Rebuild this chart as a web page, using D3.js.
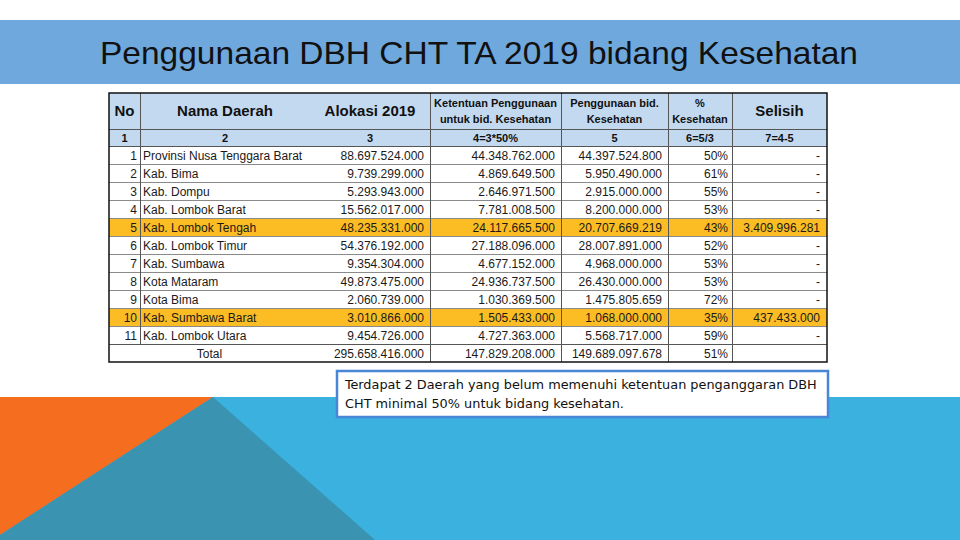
<!doctype html>
<html>
  <head>
    <meta charset="utf-8">
    <script src="https://cdnjs.cloudflare.com/ajax/libs/d3/7.8.5/d3.min.js"></script>
    <style>
      body { margin: 0; background: #fff; }
      svg { display: block; font-family: "Liberation Sans", Arial, sans-serif; }
      text.cell { font-size: 12px; fill: #1a1a1a; }
      text.head { font-weight: bold; fill: #111; }
      line.grid { stroke: #555; stroke-width: 1; }
      line.rowline { stroke: #8a8a8a; stroke-width: 1; }
    </style>
  </head>
  <body>
    <div id="slide"></div>
    <script>
      // data
      var titleText = "Penggunaan DBH CHT TA 2019 bidang Kesehatan";
      var regions = ["Provinsi Nusa Tenggara Barat", "Kab. Bima", "Kab. Dompu", "Kab. Lombok Barat",
        "Kab. Lombok Tengah", "Kab. Lombok Timur", "Kab. Sumbawa", "Kota Mataram", "Kota Bima",
        "Kab. Sumbawa Barat", "Kab. Lombok Utara"];
      var alokasi = [88697524000, 9739299000, 5293943000, 15562017000, 48235331000, 54376192000,
        9354304000, 49873475000, 2060739000, 3010866000, 9454726000];
      var ketentuan = [44348762000, 4869649500, 2646971500, 7781008500, 24117665500, 27188096000,
        4677152000, 24936737500, 1030369500, 1505433000, 4727363000];
      var penggunaan = [44397524800, 5950490000, 2915000000, 8200000000, 20707669219, 28007891000,
        4968000000, 26430000000, 1475805659, 1068000000, 5568717000];
      var persen = [50, 61, 55, 53, 43, 52, 53, 53, 72, 35, 59];
      var selisih = [null, null, null, null, 3409996281, null, null, null, null, 437433000, null];
      var highlighted = [4, 9];
      var totals = { alokasi: 295658416000, ketentuan: 147829208000, penggunaan: 149689097678, persen: 51 };
      var headers = [["No"], ["Nama Daerah"], ["Alokasi 2019"], ["Ketentuan Penggunaan", "untuk bid. Kesehatan"],
        ["Penggunaan bid.", "Kesehatan"], ["%", "Kesehatan"], ["Selisih"]];
      var subHeaders = ["1", "2", "3", "4=3*50%", "5", "6=5/3", "7=4-5"];
      var note = ["Terdapat 2 Daerah yang belum memenuhi ketentuan penganggaran DBH",
        "CHT minimal 50% untuk bidang kesehatan."];

      var W = 960, H = 540;
      var svg = d3.select("#slide").append("svg").attr("width", W).attr("height", H);

      // background shapes
      var bandTop = 397;
      svg.append("rect").attr("x", 0).attr("y", bandTop).attr("width", W).attr("height", H - bandTop)
        .attr("fill", "#3bb1df");
      svg.append("path").attr("d", "M0," + bandTop + "L213," + bandTop + "L0,535Z").attr("fill", "#f56d1f");
      svg.append("path").attr("d", "M213," + bandTop + "L375,540L0,540L0,535Z").attr("fill", "#3993b1");

      // title band
      svg.append("rect").attr("x", 0).attr("y", 20).attr("width", W).attr("height", 64).attr("fill", "#6fa8dc");
      svg.append("text").attr("x", 479).attr("y", 64).attr("text-anchor", "middle")
        .style("font-size", "32px").attr("fill", "#111")
        .attr("textLength", 758).attr("lengthAdjust", "spacingAndGlyphs")
        .text(titleText);

      // table layout
      var edges = [109, 140, 310, 430, 561, 668, 732, 827];
      var tTop = 93, hBottom = 129, sBottom = 146, tBottom = 362;
      var y = d3.scaleBand().domain(d3.range(regions.length)).range([sBottom, sBottom + 18 * regions.length]);
      var totalTop = y.range()[1];
      var fmt = d3.formatLocale({ thousands: ".", decimal: ",", grouping: [3], currency: ["", ""] }).format(",d");

      var tbl = svg.append("g");
      tbl.append("rect").attr("x", edges[0]).attr("y", tTop).attr("width", edges[7] - edges[0])
        .attr("height", sBottom - tTop).attr("fill", "#c3d9f0");
      tbl.append("rect").attr("x", edges[0]).attr("y", sBottom).attr("width", edges[7] - edges[0])
        .attr("height", tBottom - sBottom).attr("fill", "#fff");
      tbl.selectAll("rect.hl").data(highlighted).enter().append("rect")
        .attr("x", edges[0]).attr("y", d => y(d)).attr("width", edges[7] - edges[0])
        .attr("height", y.bandwidth()).attr("fill", "#fbbd23");

      // row lines
      tbl.selectAll("line.rowline").data(d3.range(1, regions.length)).enter().append("line")
        .attr("class", "rowline").attr("x1", edges[0]).attr("x2", edges[7])
        .attr("y1", d => y(d) + 0.5).attr("y2", d => y(d) + 0.5);
      [hBottom, sBottom, totalTop].forEach(function (yy) {
        tbl.append("line").attr("class", "grid").attr("x1", edges[0]).attr("x2", edges[7])
          .attr("y1", yy + 0.5).attr("y2", yy + 0.5);
      });
      // vertical lines
      tbl.append("line").attr("class", "grid").attr("x1", edges[1] + 0.5).attr("x2", edges[1] + 0.5)
        .attr("y1", tTop).attr("y2", totalTop);
      [3, 4, 5, 6].forEach(function (i) {
        tbl.append("line").attr("class", "grid").attr("x1", edges[i] + 0.5).attr("x2", edges[i] + 0.5)
          .attr("y1", tTop).attr("y2", tBottom);
      });
      tbl.append("rect").attr("x", edges[0]).attr("y", tTop).attr("width", edges[7] - edges[0])
        .attr("height", tBottom - tTop).attr("fill", "none").attr("stroke", "#111").attr("stroke-width", 1.5);

      // headers
      var centers = d3.range(7).map(i => (edges[i] + edges[i + 1]) / 2);
      headers.forEach(function (lines, i) {
        var big = lines.length === 1;
        var t = tbl.append("text").attr("class", "head").attr("text-anchor", "middle")
          .style("font-size", big ? "15px" : "11px");
        if (big) {
          t.attr("x", centers[i]).attr("y", 116).text(lines[0]);
        } else {
          lines.forEach(function (l, j) {
            t.append("tspan").attr("x", centers[i]).attr("y", 107 + j * 16).text(l);
          });
        }
      });
      tbl.selectAll("text.sub").data(subHeaders).enter().append("text")
        .attr("class", "head sub").attr("text-anchor", "middle").style("font-size", "11px")
        .attr("x", (d, i) => centers[i]).attr("y", 141.5).text(d => d);

      // body rows
      var rows = tbl.selectAll("g.row").data(regions).enter().append("g").attr("class", "row")
        .attr("transform", (d, i) => "translate(0," + (y(i) + 13.5) + ")");
      function cell(sel, x, anchor, fn) {
        sel.append("text").attr("class", "cell").attr("x", x).attr("text-anchor", anchor).text(fn);
      }
      cell(rows, edges[1] - 3, "end", (d, i) => i + 1);
      cell(rows, edges[1] + 3, "start", d => d);
      cell(rows, edges[3] - 6, "end", (d, i) => fmt(alokasi[i]));
      cell(rows, edges[4] - 6, "end", (d, i) => fmt(ketentuan[i]));
      cell(rows, edges[5] - 6, "end", (d, i) => fmt(penggunaan[i]));
      cell(rows, edges[6] - 4, "end", (d, i) => persen[i] + "%");
      cell(rows, edges[7] - 7, "end", (d, i) => selisih[i] === null ? "-" : fmt(selisih[i]));

      // total row
      var tr = tbl.append("g").attr("transform", "translate(0," + (totalTop + 13.5) + ")");
      cell(tr, (edges[0] + edges[2]) / 2, "middle", "Total");
      cell(tr, edges[3] - 6, "end", fmt(totals.alokasi));
      cell(tr, edges[4] - 6, "end", fmt(totals.ketentuan));
      cell(tr, edges[5] - 6, "end", fmt(totals.penggunaan));
      cell(tr, edges[6] - 4, "end", totals.persen + "%");

      // note box
      svg.append("rect").attr("x", 337).attr("y", 371).attr("width", 491).attr("height", 46)
        .attr("fill", "#fff").attr("stroke", "#4a86d8").attr("stroke-width", 2.5);
      var ng = svg.append("g");
      var nt = ng.selectAll("text").data(note).enter().append("text")
        .attr("x", 0).attr("y", (d, i) => i * 19)
        .style("font-family", "'Liberation Sans Narrow', 'DejaVu Sans Condensed', 'Open Sans', sans-serif")
        .style("font-size", "13px").attr("fill", "#111").text(d => d);
      var w0 = nt.nodes()[0].getComputedTextLength();
      ng.attr("transform", "translate(345,389) scale(" + (472 / w0) + ",1)");
    </script>
  </body>
</html>
